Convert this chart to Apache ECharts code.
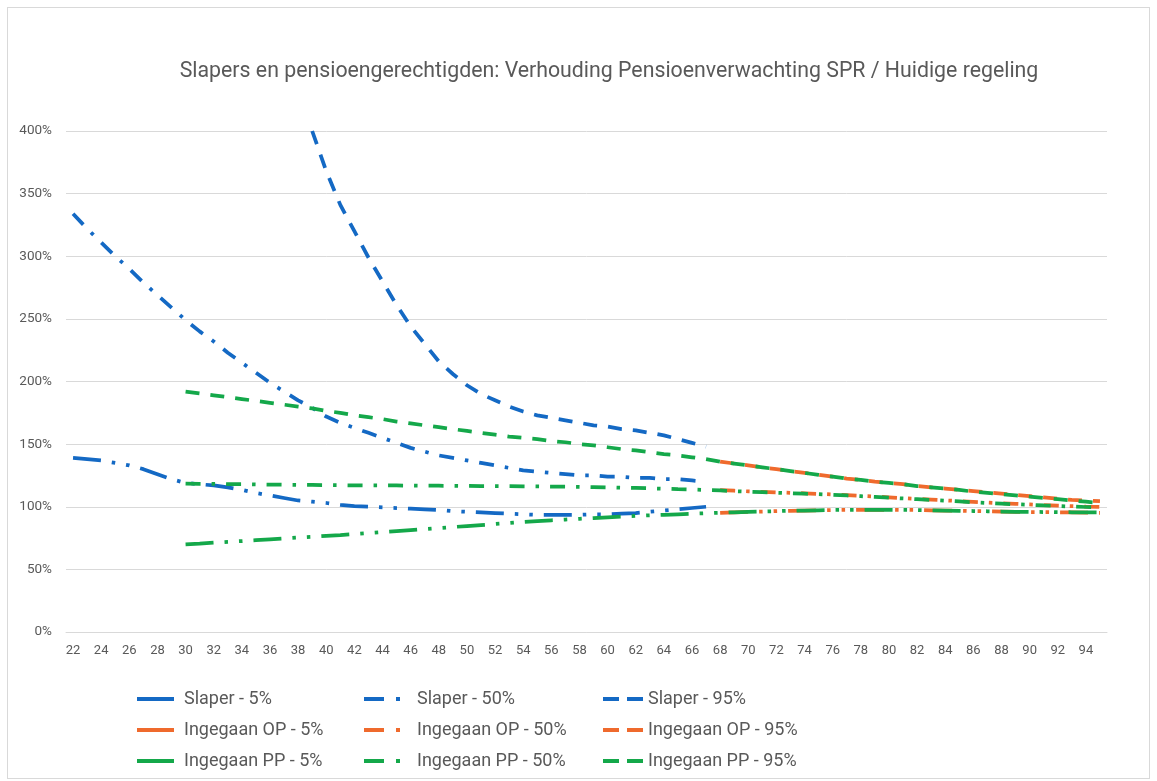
<!DOCTYPE html>
<html>
<head>
<meta charset="utf-8">
<script src="https://cdn.jsdelivr.net/npm/echarts@6/dist/echarts.min.js"></script>
<style>
  html, body { margin: 0; padding: 0; background: #fff; }
  #frame { position: absolute; left: 7px; top: 7px; width: 1141px; height: 770px; border: 1px solid #d9d9d9; }
  #chart { position: absolute; left: 0; top: 0; width: 1157px; height: 781px; }
</style>
</head>
<body>
<div id="frame"></div>
<div id="chart"></div>
<script>
// leeftijden 22 t/m 95
const ages = [];
for (let a = 22; a <= 95; a++) ages.push(String(a));

const yTicks = [0, 50, 100, 150, 200, 250, 300, 350, 400];

// Slaper: 22 t/m 67 (95% vanaf 39)
const slaper5 = [139, 138, 137, 135, 133, 130, 126, 122, 119, 118, 117, 115.5, 113.5, 111, 109, 107, 105, 104, 103,
  101.5, 100.5, 100, 99.5, 99, 98.5, 98, 97.5, 96.5, 96, 95.5, 95, 94.5, 94, 93.5, 93.5, 93.5, 93.5, 94, 94,
  94.5, 95, 96, 97, 98, 99, 100];
const slaper50 = [334, 322, 311, 300, 290, 279, 269, 259, 249, 240, 232, 223, 215, 207, 199, 192, 185, 179, 172,
  167, 163, 159, 155, 151, 147, 144, 141, 139, 137, 135, 133, 131, 129, 128, 127, 126, 125, 125, 124, 124,
  123, 123, 122, 122, 121, 120];
const slaper95 = [400, 368, 341, 320, 299, 280, 261, 244, 230, 216, 206, 197, 190, 185, 180, 176, 173, 171, 169,
  167, 165, 164, 162, 161, 159, 157, 154, 151, 148];

// Ingegaan OP: 68 t/m 95
const op5 = [95.2, 95.6, 95.9, 96.2, 96.5, 96.8, 97, 97.2, 97.4, 97.5, 97.6, 97.6, 97.6, 97.5, 97.4, 97.2, 97,
  96.8, 96.6, 96.4, 96.2, 96, 95.8, 95.7, 95.6, 95.5, 95.3, 95.1];
const op50 = [113.2, 112.8, 112.3, 111.9, 111.5, 111.1, 110.7, 110.3, 109.8, 109.3, 108.7, 108.1, 107.5, 106.9,
  106.3, 105.7, 105.1, 104.5, 103.9, 103.3, 102.8, 102.3, 101.8, 101.3, 100.9, 100.5, 100.1, 99.8];
const op95 = [136, 134.5, 133, 131.5, 130, 128.5, 127, 125.5, 124, 122.5, 121.5, 120, 119, 118, 116.5, 115.5,
  114.5, 113.5, 112.5, 111.5, 110.5, 109.5, 108.5, 107.5, 106.5, 105.5, 105, 104.5];

// Ingegaan PP: 30 t/m 95
const pp5 = [70, 70.6, 71.3, 72, 72.6, 73.3, 74, 74.7, 75.4, 76, 76.7, 77.4, 78.2, 79, 79.8, 80.6, 81.4, 82.2, 83,
  83.8, 84.6, 85.4, 86.2, 87, 87.8, 88.5, 89.2, 89.8, 90.4, 91, 91.6, 92.2, 92.7, 93.2, 93.6, 94, 94.4, 94.8,
  95.2, 95.6, 95.9, 96.2, 96.5, 96.8, 97, 97.2, 97.4, 97.5, 97.6, 97.6, 97.6, 97.5, 97.4, 97.2, 97, 96.8, 96.6,
  96.4, 96.2, 96, 95.9, 95.8, 95.7, 95.6, 95.5, 95.4];
const pp50 = [118.5, 118.3, 118.2, 118, 118, 117.8, 117.7, 117.6, 117.5, 117.4, 117.3, 117.2, 117.1, 117, 117, 117,
  116.9, 116.8, 116.8, 116.7, 116.6, 116.5, 116.5, 116.4, 116.3, 116.2, 116.1, 116, 115.9, 115.7, 115.5, 115.2,
  115, 114.7, 114.4, 114, 113.7, 113.4, 113, 112.5, 112, 111.6, 111.2, 110.8, 110.4, 110, 109.5, 109, 108.4,
  107.8, 107.2, 106.6, 106, 105.4, 104.8, 104.2, 103.6, 103, 102.5, 102, 101.5, 101, 100.6, 100.2, 99.8, 99.5];
const pp95 = [192, 190.5, 189, 187.5, 186, 184.5, 183, 181.5, 180, 178.5, 176.5, 175, 173, 171.5, 170, 168, 166.5,
  165, 163.5, 162, 160.5, 159, 157.5, 156, 155, 154, 152.5, 151.5, 150, 149, 147.5, 146, 145, 143.5, 142, 141,
  139.5, 138, 136, 134.5, 133, 131.5, 130, 128.5, 127, 125.5, 124, 122.5, 121.5, 120, 119, 118, 116.5, 115.5,
  114.5, 113.5, 112, 111, 110, 109, 108, 107, 106, 105, 104, 103];

const blue = '#1469c4', orange = '#ef6a2d', green = '#14a84a';
const dash5 = [28, 11, 3.5, 11, 3.5, 11];   // lange streep punt punt
const dash50 = [15, 11, 3.5, 11];           // streep punt
const dash95 = [14, 11];                    // streep

// reeks op de juiste leeftijd zetten
function pad(values, startAge) {
  const out = ages.map(() => null);
  values.forEach((v, i) => { out[startAge - 22 + i] = v; });
  return out;
}

function mk(name, values, startAge, color, dash) {
  return {
    name: name,
    type: 'line',
    symbol: 'none',
    smooth: false,
    connectNulls: false,
    data: pad(values, startAge),
    itemStyle: { color: color },
    lineStyle: { color: color, width: 3.75, type: dash, cap: 'butt' },
    emphasis: { disabled: true }
  };
}

const series = [
  mk('Slaper - 5%', slaper5, 22, blue, dash5),
  mk('Slaper - 50%', slaper50, 22, blue, dash50),
  mk('Slaper - 95%', slaper95, 39, blue, dash95),
  mk('Ingegaan OP - 5%', op5, 68, orange, dash5),
  mk('Ingegaan OP - 50%', op50, 68, orange, dash50),
  mk('Ingegaan OP - 95%', op95, 68, orange, dash95),
  mk('Ingegaan PP - 5%', pp5, 30, green, dash5),
  mk('Ingegaan PP - 50%', pp50, 30, green, dash50),
  mk('Ingegaan PP - 95%', pp95, 30, green, dash95)
];

function legendCol(left, width, names, lineType, textPad) {
  return {
    orient: 'vertical',
    left: left,
    top: 685,
    itemGap: 13,
    itemWidth: width,
    itemHeight: 14,
    selectedMode: false,
    itemStyle: { opacity: 0 },
    lineStyle: { type: lineType, width: 4, cap: 'butt' },
    textStyle: { color: '#595959', fontSize: 18, fontFamily: 'Roboto', padding: [0, 0, 0, textPad] },
    data: names
  };
}

const myChart = echarts.init(document.getElementById('chart'));
const option = {
  animation: false,
  backgroundColor: 'transparent',
  textStyle: { fontFamily: 'Roboto' },
  title: {
    text: 'Slapers en pensioengerechtigden: Verhouding Pensioenverwachting SPR / Huidige regeling',
    left: 604,
    textAlign: 'center',
    top: 56,
    textStyle: { color: '#595959', fontSize: 21.3, fontWeight: 'normal', fontFamily: 'Roboto' }
  },
  legend: [
    legendCol(130, 37, ['Slaper - 5%', 'Ingegaan OP - 5%', 'Ingegaan PP - 5%'], 'solid', 5),
    legendCol(357, 40, ['Slaper - 50%', 'Ingegaan OP - 50%', 'Ingegaan PP - 50%'], [20, 12, 4, 20], 8),
    legendCol(596, 40, ['Slaper - 95%', 'Ingegaan OP - 95%', 'Ingegaan PP - 95%'], [16, 8], 0)
  ],
  grid: { left: 66, right: 50, top: 131, bottom: 149, containLabel: false },
  xAxis: {
    type: 'category',
    boundaryGap: true,
    data: ages,
    axisTick: { show: false },
    axisLine: { show: true, lineStyle: { color: '#d9d9d9' } },
    axisLabel: { interval: 1, color: '#595959', fontSize: 13, margin: 12 }
  },
  yAxis: {
    type: 'value',
    min: yTicks[0],
    max: yTicks[yTicks.length - 1],
    interval: 50,
    axisLine: { show: false },
    axisTick: { show: false },
    axisLabel: { color: '#595959', fontSize: 13.5, margin: 14, formatter: '{value}%' },
    splitLine: { lineStyle: { color: '#d9d9d9', width: 1 } }
  },
  series: series
};
myChart.setOption(option);
</script>
</body>
</html>
